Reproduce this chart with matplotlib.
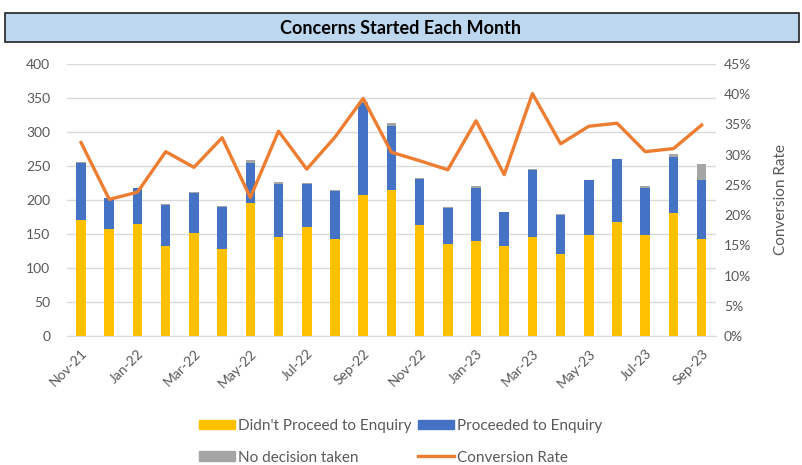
import numpy as np
import matplotlib
matplotlib.use("Agg")
import matplotlib.pyplot as plt
from matplotlib.patches import Patch, Rectangle
from matplotlib.lines import Line2D
from matplotlib.ticker import FuncFormatter

plt.rcParams['font.family'] = ['Lato', 'DejaVu Sans']

months = ['Nov-21', 'Dec-21', 'Jan-22', 'Feb-22', 'Mar-22', 'Apr-22', 'May-22', 'Jun-22',
          'Jul-22', 'Aug-22', 'Sep-22', 'Oct-22', 'Nov-22', 'Dec-22', 'Jan-23', 'Feb-23',
          'Mar-23', 'Apr-23', 'May-23', 'Jun-23', 'Jul-23', 'Aug-23', 'Sep-23']
didnt_proceed = [171, 157, 165, 132, 151, 128, 196, 146, 160, 142, 208, 214,
                 163, 136, 140, 132, 146, 120, 148, 167, 148, 181, 142]
proceeded = [83, 46, 52, 61, 60, 62, 59, 77, 63, 71, 135, 95,
             68, 52, 78, 50, 98, 58, 81, 93, 69, 82, 88]
no_decision = [2, 0, 1, 1, 1, 1, 4, 3, 2, 1, 1, 4,
               2, 1, 3, 1, 1, 1, 1, 1, 3, 4, 23]
conversion = [32.0, 22.6, 23.8, 30.5, 27.9, 32.8, 22.9, 33.9, 27.6, 32.9, 39.3, 30.4,
              29.0, 27.5, 35.6, 26.7, 40.1, 31.8, 34.7, 35.2, 30.5, 31.0, 34.9]

YELLOW = '#FFC000'
BLUE = '#4472C4'
GRAY = '#A5A5A5'
ORANGE = '#ED7D31'
TEXT = '#595959'

fig = plt.figure(figsize=(8.02, 4.65), dpi=100)
ax = fig.add_axes([0.0835, 0.2774, 0.809, 0.585])

x = np.arange(len(months))
w = 0.34
d = np.array(didnt_proceed)
p = np.array(proceeded)
n = np.array(no_decision)
ax.bar(x, d, w, color=YELLOW, zorder=2)
ax.bar(x, p, w, bottom=d, color=BLUE, zorder=2)
ax.bar(x, n, w, bottom=d + p, color=GRAY, zorder=2)

ax.set_xlim(-0.5, len(months) - 0.5)
ax.set_ylim(0, 400)
ax.set_yticks(range(0, 401, 50))
ax.yaxis.grid(True, color='#D9D9D9', linewidth=1, zorder=0)
for s in ['top', 'right', 'left']:
    ax.spines[s].set_visible(False)
ax.spines['bottom'].set_color('#D9D9D9')
ax.tick_params(axis='both', length=0, colors=TEXT, labelsize=10)
ax.tick_params(axis='y', pad=12)
ax.set_xticks(x[::2])
ax.set_xticklabels(months[::2], rotation=45, ha='right', rotation_mode='anchor')
ax.tick_params(axis='x', pad=8)

ax2 = ax.twinx()
ax2.plot(x, conversion, color=ORANGE, linewidth=2.4, zorder=3)
ax2.set_ylim(0, 45)
ax2.set_yticks(range(0, 46, 5))
ax2.yaxis.set_major_formatter(FuncFormatter(lambda v, _: f'{int(v)}%'))
for s in ['top', 'right', 'left', 'bottom']:
    ax2.spines[s].set_visible(False)
ax2.tick_params(axis='y', length=0, colors=TEXT, labelsize=10, pad=6)
ax2.set_ylabel('Conversion Rate', color=TEXT, fontsize=11, labelpad=16)

# title box
fig.patches.append(Rectangle((5 / 802, 1 - 42 / 465), 794 / 802, 29 / 465,
                             transform=fig.transFigure, facecolor='#BDD7EE',
                             edgecolor='#222222', linewidth=1.2))
fig.text(0.5, 1 - 28 / 465, 'Concerns Started Each Month', ha='center', va='center',
         fontsize=13, fontweight='bold', color='black')

handles = [Patch(color=YELLOW), Patch(color=BLUE), Patch(color=GRAY),
           Line2D([0], [0], color=ORANGE, linewidth=2.4)]
labels = ["Didn't Proceed to Enquiry", 'Proceeded to Enquiry',
          'No decision taken', 'Conversion Rate']
leg = fig.legend([handles[0], handles[2], handles[1], handles[3]],
                 [labels[0], labels[2], labels[1], labels[3]],
                 ncol=2, loc='upper left', bbox_to_anchor=(199 / 802, 1 - 419 / 465),
                 frameon=False, handlelength=2.35, handleheight=0.6,
                 handletextpad=0.2, columnspacing=0.45, labelspacing=1.15,
                 borderaxespad=0, borderpad=0, fontsize=11)
for t in leg.get_texts():
    t.set_color(TEXT)

fig.savefig('out.png', dpi=100)
